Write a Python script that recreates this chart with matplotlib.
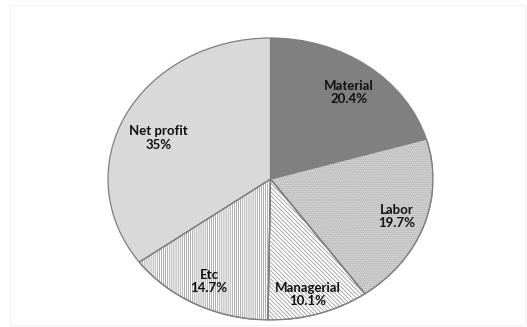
import numpy as np
import matplotlib.pyplot as plt
from matplotlib.patches import Wedge, Rectangle

# Cost breakdown
categories = ['Material', 'Labor', 'Managerial', 'Etc', 'Net profit']
shares = [20.4, 19.7, 10.1, 14.7, 35.0]
share_labels = ['20.4%', '19.7%', '10.1%', '14.7%', '35%']

face_colors = ['#808080', '#bfbfbf', '#ffffff', '#ffffff', '#d9d9d9']
hatches = [None, '........', '\\\\\\\\\\\\\\\\', '||||||||', None]
hatch_colors = [None, '#e6e6e6', '#8c8c8c', '#8c8c8c', None]
# label placement: radius fraction and angle nudge (deg) from wedge middle
label_r = [0.78, 0.82, 0.85, 0.82, 0.75]
label_shift = [-1.5, 0, -1.5, 0, 4.0]

plt.rcParams['hatch.linewidth'] = 0.5

W, H = 527, 327
fig = plt.figure(figsize=(W / 100, H / 100), dpi=100)
fig.patch.set_facecolor('white')

# faint chart-area border
fig.patches.append(Rectangle((10 / W, 2 / H), 515 / W, 320 / H, transform=fig.transFigure,
                             fill=False, edgecolor='#f2f2f2', linewidth=0.8))

# pie box in pixels (stretched a little horizontally)
x0, x1, y0, y1 = 108, 433, 38, 320
ax = fig.add_axes([x0 / W, 1 - y1 / H, (x1 - x0) / W, (y1 - y0) / H])

wedges, _ = ax.pie(shares, colors=face_colors, startangle=90, counterclock=False,
                   wedgeprops=dict(edgecolor='#7f7f7f', linewidth=0.9))

for w, hatch, hc in zip(wedges, hatches, hatch_colors):
    if hatch is None:
        continue
    ax.add_patch(Wedge(w.center, w.r, w.theta1, w.theta2, facecolor='none',
                       edgecolor=hc, linewidth=0, hatch=hatch, zorder=w.get_zorder() + 0.1))
    # redraw border on top of hatching
    ax.add_patch(Wedge(w.center, w.r, w.theta1, w.theta2, facecolor='none',
                       edgecolor='#7f7f7f', linewidth=0.9, zorder=w.get_zorder() + 0.2))

for w, name, lab, r, da in zip(wedges, categories, share_labels, label_r, label_shift):
    mid = np.deg2rad((w.theta1 + w.theta2) / 2 + da)
    ax.text(r * np.cos(mid), r * np.sin(mid), f'{name}\n{lab}', ha='center', va='center',
            fontsize=9.5, fontweight='bold', family=['Lato', 'DejaVu Sans'],
            color='#111111', linespacing=1.15, zorder=5)

ax.set_aspect('auto')
ax.set_xlim(-1, 1)
ax.set_ylim(-1, 1)
ax.axis('off')

fig.savefig('out.png', dpi=100)
